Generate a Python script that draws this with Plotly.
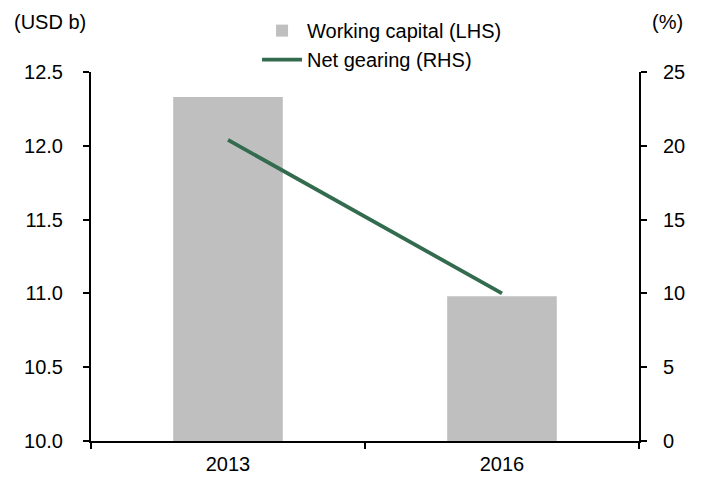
import plotly.graph_objects as go

# Data
years = ["2013", "2016"]
working_capital = [12.33, 10.98]   # USD b, left axis
net_gearing = [20.4, 10.0]         # %, right axis

left_ticks = [10.0, 10.5, 11.0, 11.5, 12.0, 12.5]
right_ticks = [0, 5, 10, 15, 20, 25]

FONT = "Liberation Sans, Arial, sans-serif"
BAR_COLOR = "#bfbfbf"
LINE_COLOR = "#336b4e"

fig = go.Figure()

fig.add_trace(go.Bar(
    x=years, y=working_capital, name="Working capital (LHS)",
    marker=dict(color=BAR_COLOR, line=dict(width=0)),
    yaxis="y",
))
fig.add_trace(go.Scatter(
    x=years, y=net_gearing, name="Net gearing (RHS)",
    mode="lines", line=dict(color=LINE_COLOR, width=3.8),
    yaxis="y2",
))

fig.update_layout(
    width=703, height=477,
    margin=dict(l=91, r=64, t=72, b=36, autoexpand=False),
    paper_bgcolor="white", plot_bgcolor="white",
    font=dict(family=FONT, size=20, color="black"),
    bargap=0.6,
    showlegend=True,
    legend=dict(
        x=0.303, y=1.165, xanchor="left", yanchor="top",
        bgcolor="rgba(0,0,0,0)", font=dict(size=20),
        tracegroupgap=0, itemwidth=40,
    ),
    xaxis=dict(
        type="category", showgrid=False, zeroline=False,
        showline=True, linecolor="black", linewidth=2,
        ticks="outside", tickson="boundaries", ticklen=6,
        tickwidth=2, tickcolor="black",
        ticklabelstandoff=4,
    ),
    yaxis=dict(
        range=[10.0, 12.5], tickvals=left_ticks,
        ticktext=[f"{v:.1f}" for v in left_ticks],
        showgrid=False, zeroline=False,
        showline=True, linecolor="black", linewidth=2,
        ticks="outside", ticklen=6, tickwidth=2, tickcolor="black",
        ticklabelstandoff=16,
    ),
    yaxis2=dict(
        range=[0, 25], tickvals=right_ticks,
        overlaying="y", side="right",
        showgrid=False, zeroline=False,
        showline=True, linecolor="black", linewidth=2,
        ticks="outside", ticklen=6, tickwidth=2, tickcolor="black",
        ticklabelstandoff=12,
    ),
    annotations=[
        dict(text="(USD b)", xref="paper", yref="paper", x=-0.145, y=1.135,
             xanchor="left", yanchor="middle", showarrow=False,
             font=dict(size=20)),
        dict(text="(%)", xref="paper", yref="paper", x=1.02, y=1.135,
             xanchor="left", yanchor="middle", showarrow=False,
             font=dict(size=20)),
    ],
)

fig.write_html("out.html")
